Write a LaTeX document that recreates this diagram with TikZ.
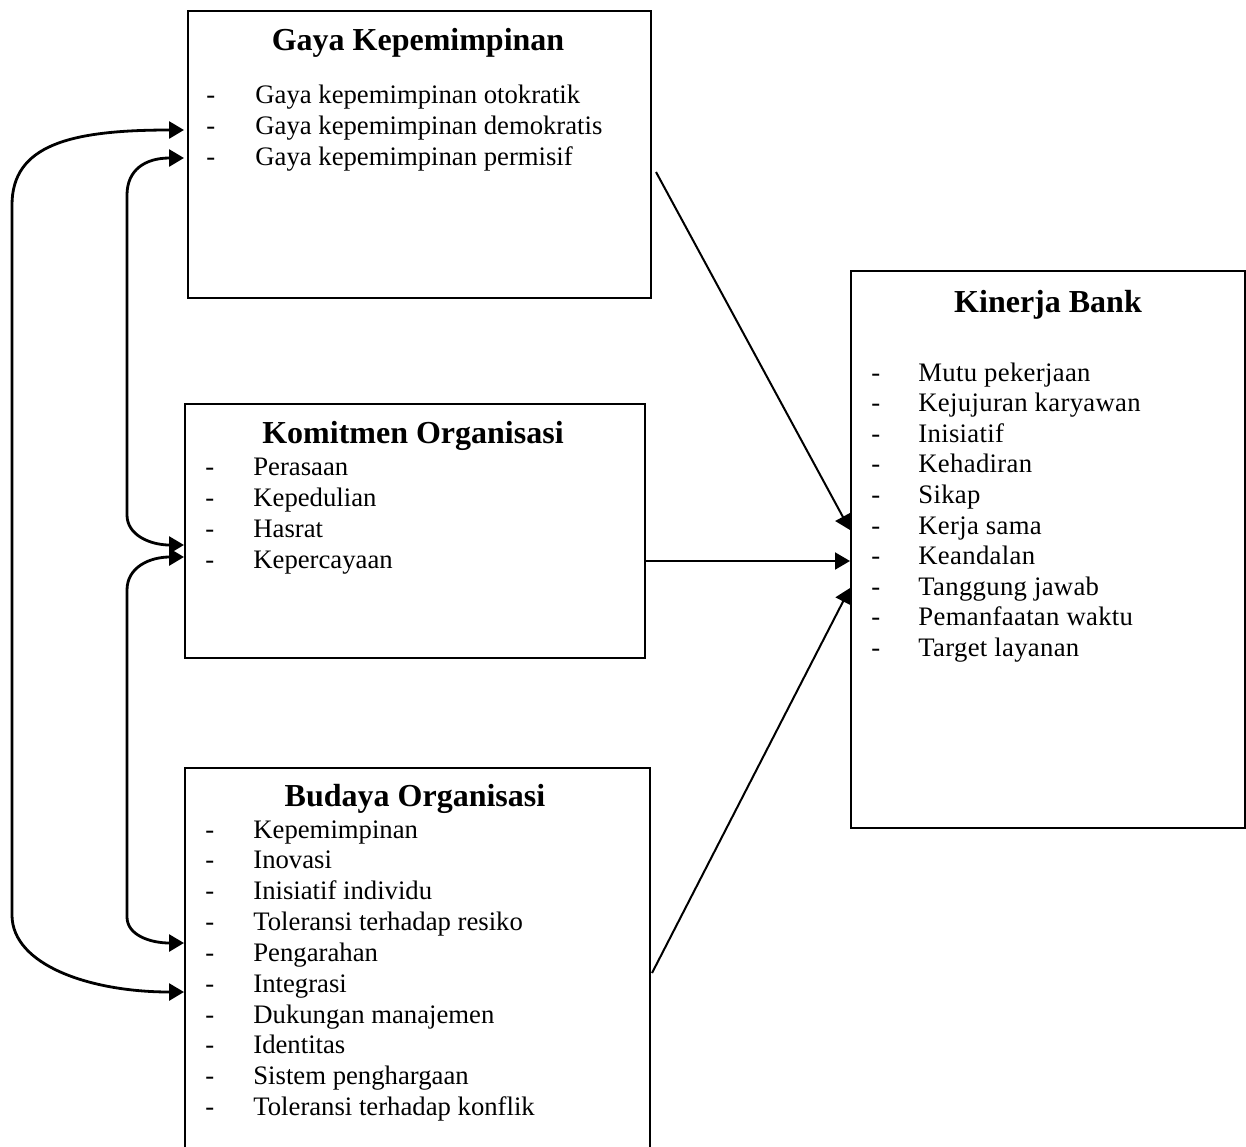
\documentclass[tikz,border=0pt]{standalone}
\usepackage{fontspec}
\setmainfont{Liberation Serif}
\usetikzlibrary{arrows.meta}
\begin{document}
\begin{tikzpicture}[x=0.5pt,y=-0.5pt,
  box/.style={draw,line width=1pt,inner sep=0pt,anchor=north west},
  head/.style={font=\fontsize{16}{19}\selectfont\bfseries,anchor=base,inner sep=0pt},
  item/.style={font=\fontsize{13.35}{16}\selectfont,anchor=base west,inner sep=0pt},
  tip/.style={-{Triangle[length=7.5pt,width=8.5pt]}},
  conn/.style={tip,line width=1pt},
  loopline/.style={{Triangle[length=7.5pt,width=8.5pt]}-{Triangle[length=7.5pt,width=8.5pt]},line width=1.4pt}
]
\useasboundingbox (0,0) rectangle (1246,1146);

% boxes
\node[box,minimum width=231.5pt,minimum height=143.5pt] (gaya) at (187,10) {};
\node[box,minimum width=230pt,minimum height=127pt] (kom) at (184,403) {};
\node[box,minimum width=232.5pt,minimum height=204pt] (bud) at (184,767) {};
\node[box,minimum width=197pt,minimum height=278.5pt] (kin) at (850,270) {};

% titles
\node[head] (gayaT) at (418,50) {Gaya Kepemimpinan};
\node[head] (komT) at (413,443) {Komitmen Organisasi};
\node[head] (budT) at (415,806) {Budaya Organisasi};
\node[head] (kinT) at (1048,312) {Kinerja Bank};

% Gaya Kepemimpinan items
\foreach \t [count=\i] in {Gaya kepemimpinan otokratik,Gaya kepemimpinan demokratis,Gaya kepemimpinan permisif}{
  \node[item] (gd\i) at (206,{103+31*(\i-1)}) {-};
  \node[item] (gi\i) at (255,{103+31*(\i-1)}) {\t};
}
% Komitmen Organisasi items
\foreach \t [count=\i] in {Perasaan,Kepedulian,Hasrat,Kepercayaan}{
  \node[item] (kd\i) at (205,{475+31*(\i-1)}) {-};
  \node[item] (ki\i) at (253,{475+31*(\i-1)}) {\t};
}
% Budaya Organisasi items
\foreach \t [count=\i] in {Kepemimpinan,Inovasi,Inisiatif individu,Toleransi terhadap resiko,Pengarahan,Integrasi,Dukungan manajemen,Identitas,Sistem penghargaan,Toleransi terhadap konflik}{
  \node[item] (bd\i) at (205,{838+30.85*(\i-1)}) {-};
  \node[item] (bi\i) at (253,{838+30.85*(\i-1)}) {\t};
}
% Kinerja Bank items
\foreach \t [count=\i] in {Mutu pekerjaan,Kejujuran karyawan,Inisiatif,Kehadiran,Sikap,Kerja sama,Keandalan,Tanggung jawab,Pemanfaatan waktu,Target layanan}{
  \node[item] (nd\i) at (871,{381+30.6*(\i-1)}) {-};
  \node[item,font=\fontsize{13.35}{16}\selectfont\addfontfeature{LetterSpace=1.2}] (ni\i) at (918,{381+30.6*(\i-1)}) {\t};
}

% paths into Kinerja Bank
\draw[conn] ([shift={(4,162)}]gaya.north east) -- ([shift={(0,260)}]kin.north west);
\draw[conn] ([shift={(0,158)}]kom.north east) -- ([shift={(0,291)}]kin.north west);
\draw[conn] ([shift={(1,206)}]bud.north east) -- ([shift={(0,318)}]kin.north west);

% correlations between the independent variables
\draw[loopline] ([shift={(-3,120)}]gaya.north west)
  .. controls (70,130) and (12,145) .. (12,205) -- (12,915)
  .. controls (12,965) and (90,992) .. ([shift={(0,225)}]bud.north west);
\draw[loopline] ([shift={(-3,148)}]gaya.north west)
  .. controls (145,158) and (127,170) .. (127,195) -- (127,515)
  .. controls (127,535) and (150,545) .. ([shift={(0,142)}]kom.north west);
\draw[loopline] ([shift={(0,154)}]kom.north west)
  .. controls (150,557) and (127,567) .. (127,590) -- (127,917)
  .. controls (127,935) and (150,943) .. ([shift={(0,176)}]bud.north west);
\end{tikzpicture}
\end{document}
